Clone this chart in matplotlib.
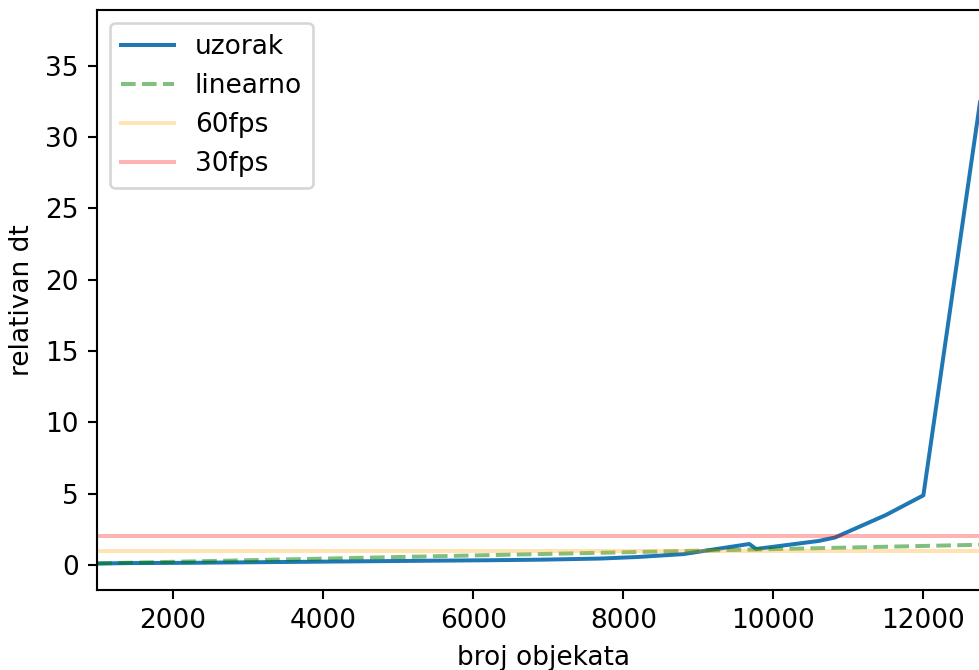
import matplotlib
matplotlib.use("Agg")
import matplotlib.pyplot as plt

# broj objekata vs relativan dt
broj = [990, 1400, 2200, 3300, 4800, 5500, 6200, 6900, 7700, 8200, 8800,
        9680, 9770, 10600, 10820, 11500, 12000, 12880]
uzorak = [0.10, 0.13, 0.15, 0.20, 0.27, 0.30, 0.33, 0.37, 0.45, 0.56, 0.76,
          1.47, 1.12, 1.68, 1.92, 3.50, 4.88, 37.0]

linearno_x = [990, 12880]
linearno_y = [0.11, 1.43]

fps60 = 1.0
fps30 = 2.0

W, H, DPI = 979, 670, 190
fig = plt.figure(figsize=(W / DPI, H / DPI), dpi=DPI)

# axes placed in pixel terms; right edge runs past the image like the reference
left, right, top, bottom = 97.3, 989.4, 10.0, 589.5
ax = fig.add_axes([left / W, 1 - bottom / H, (right - left) / W, (bottom - top) / H])

ax.plot(broj, uzorak, label="uzorak")
ax.plot(linearno_x, linearno_y, "g--", alpha=0.5, label="linearno")
ax.axhline(fps60, color="orange", alpha=0.3, label="60fps")
ax.axhline(fps30, color="red", alpha=0.3, label="30fps")

ax.set_xlim(990, 12880)
ax.set_ylim(-1.72, 38.9)
ax.set_xlabel("broj objekata")
ax.set_ylabel("relativan dt")
ax.legend(loc="upper left")

fig.savefig("out.png", dpi=DPI)
